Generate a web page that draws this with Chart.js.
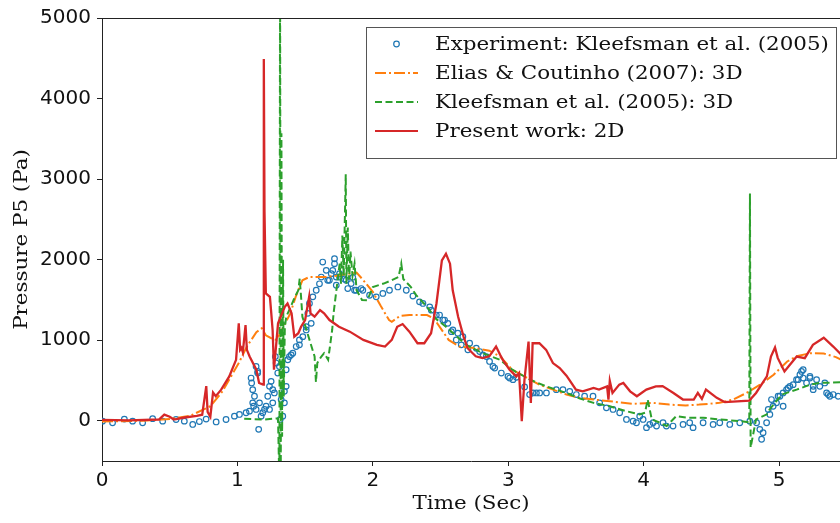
<!DOCTYPE html>
<html>
<head>
<meta charset="utf-8">
<script src="https://cdn.jsdelivr.net/npm/chart.js@4/dist/chart.umd.min.js"></script>
<style>
  html, body { margin: 0; padding: 0; background: #fff; overflow: hidden; }
  #wrap { width: 840px; height: 523px; }
  canvas { display: block; }
</style>
</head>
<body>
<div id="wrap"><canvas id="chart" width="840" height="523"></canvas></div>
<script>
// values: [time (s), pressure (Pa)]
const experiment = [
  [0.004,-5],[0.078,-25],[0.165,20],[0.226,-5],[0.30,-25],[0.374,25],[0.448,-5],[0.547,15],
  [0.608,-5],[0.67,-46],[0.719,-10],[0.769,20],[0.843,-15],[0.916,15],[0.978,57],[1.015,78],
  [1.064,99],[1.089,119],[1.101,530],[1.105,469],[1.113,386],[1.113,222],[1.12,180],[1.126,304],
  [1.138,673],[1.138,140],[1.15,612],[1.15,592],[1.157,-107],[1.163,222],[1.175,57],[1.187,99],
  [1.2,140],[1.212,180],[1.224,304],[1.237,427],[1.237,140],[1.249,489],[1.261,386],[1.261,222],
  [1.273,345],[1.28,797],[1.286,716],[1.298,592],[1.31,673],[1.316,16],[1.323,263],[1.335,57],
  [1.347,365],[1.347,222],[1.36,633],[1.36,427],[1.372,757],[1.384,797],[1.397,818],[1.409,839],
  [1.434,921],[1.458,942],[1.458,1003],[1.483,1044],[1.508,1127],[1.508,1167],[1.52,1333],[1.532,1456],
  [1.545,1209],[1.557,1538],[1.582,1620],[1.606,1700],[1.619,1784],[1.63,1970],[1.656,1867],[1.667,1744],
  [1.679,1744],[1.693,1826],[1.704,1867],[1.717,1950],[1.717,2011],[1.73,1784],[1.73,1682],[1.754,1826],
  [1.754,1784],[1.79,1760],[1.803,1744],[1.815,1641],[1.84,1703],[1.852,1780],[1.865,1620],[1.877,1620],
  [1.914,1641],[1.926,1620],[1.976,1558],[2.025,1538],[2.074,1580],[2.123,1620],[2.185,1661],[2.247,1620],
  [2.296,1548],[2.345,1476],[2.37,1456],[2.42,1414],[2.432,1373],[2.469,1312],[2.493,1312],[2.517,1250],
  [2.53,1250],[2.554,1209],[2.58,1106],[2.591,1127],[2.616,1003],[2.628,1086],[2.653,942],[2.665,1044],
  [2.702,880],[2.715,962],[2.764,900],[2.789,859],[2.813,818],[2.838,797],[2.862,736],[2.887,673],
  [2.9,654],[2.949,592],[2.998,550],[3.01,530],[3.035,510],[3.06,540],[3.121,420],[3.158,325],
  [3.183,345],[3.208,345],[3.232,345],[3.282,345],[3.355,386],[3.404,386],[3.454,365],[3.503,325],
  [3.564,304],[3.626,304],[3.675,222],[3.725,160],[3.774,140],[3.823,99],[3.873,16],[3.922,-5],
  [3.947,-25],[3.971,57],[3.996,16],[4.021,-86],[4.045,-46],[4.07,-25],[4.095,-66],[4.143,-25],
  [4.168,-66],[4.217,-66],[4.291,-46],[4.34,-25],[4.365,-86],[4.439,-25],[4.513,-46],[4.562,-25],
  [4.636,-46],[4.71,-25],[4.784,-5],[4.834,-25],[4.858,-107],[4.871,-230],[4.882,-148],[4.908,-25],
  [4.92,140],[4.932,78],[4.944,263],[4.956,180],[4.981,222],[4.993,304],[5.006,304],[5.03,345],
  [5.03,180],[5.055,386],[5.067,407],[5.08,427],[5.104,448],[5.129,510],[5.141,510],[5.154,571],
  [5.166,612],[5.178,633],[5.178,530],[5.203,469],[5.228,530],[5.228,550],[5.252,386],[5.252,427],
  [5.277,510],[5.301,427],[5.338,469],[5.351,345],[5.363,325],[5.375,304],[5.4,325],[5.437,304]
];

const elias3d = [
  [0,-10],[0.3,0],[0.5,20],[0.65,60],[0.8,180],[0.89,365],[0.96,571],[1.01,716],[1.07,921],
  [1.14,1100],[1.18,1148],[1.21,1060],[1.25,1024],[1.29,1003],[1.34,1167],[1.39,1330],[1.43,1538],
  [1.48,1744],[1.53,1784],[1.65,1784],[1.73,1800],[1.88,1840],[1.93,1744],[2.0,1600],[2.06,1420],
  [2.12,1250],[2.14,1229],[2.2,1300],[2.27,1312],[2.4,1312],[2.45,1270],[2.5,1150],[2.56,1003],
  [2.64,921],[2.76,901],[2.86,870],[2.94,797],[3.03,633],[3.13,540],[3.23,448],[3.33,386],
  [3.43,325],[3.53,284],[3.63,263],[3.75,242],[3.92,210],[4.07,222],[4.19,200],[4.31,190],
  [4.41,200],[4.56,222],[4.66,263],[4.76,345],[4.86,448],[4.96,571],[5.06,736],[5.13,800],
  [5.23,839],[5.33,835],[5.42,790],[5.46,756]
];

const kleefsman3d = [
  [1.05,25],[1.1,20],[1.2,15],[1.26,25],[1.3,30],[1.31,-800],[1.315,5600],[1.32,-800],[1.325,3570],
  [1.33,-200],[1.337,2000],[1.342,300],[1.35,1150],[1.36,1290],[1.39,1400],[1.42,1520],[1.45,1620],
  [1.46,1764],[1.47,1540],[1.48,1290],[1.51,1127],[1.54,962],[1.57,797],[1.58,480],[1.59,716],
  [1.62,797],[1.64,839],[1.67,756],[1.68,880],[1.7,1130],[1.71,1333],[1.74,1744],[1.755,1950],
  [1.765,1700],[1.775,2300],[1.785,1800],[1.8,3060],[1.805,1700],[1.815,2400],[1.825,1750],
  [1.835,2100],[1.85,1800],[1.865,1950],[1.88,1620],[1.92,1500],[1.96,1497],[2.0,1661],[2.08,1703],
  [2.14,1744],[2.19,1784],[2.21,1950],[2.225,1760],[2.28,1661],[2.32,1560],[2.4,1414],[2.47,1260],
  [2.54,1167],[2.69,942],[2.81,839],[2.94,756],[3.03,633],[3.16,510],[3.28,427],[3.43,345],
  [3.53,275],[3.63,222],[3.75,180],[3.87,119],[3.97,78],[4.01,100],[4.03,263],[4.06,16],
  [4.12,-25],[4.17,-66],[4.24,57],[4.32,37],[4.44,37],[4.56,16],[4.71,-5],[4.78,-20],[4.785,2820],
  [4.79,-333],[4.83,16],[4.91,80],[4.93,140],[5.02,325],[5.13,386],[5.23,448],[5.3,469],[5.46,477]
];

const present2d = [
  [0,10],[0.2,5],[0.42,15],[0.46,75],[0.5,50],[0.53,15],[0.61,40],[0.7,60],[0.74,75],[0.77,430],
  [0.78,110],[0.8,50],[0.82,350],[0.84,305],[0.88,386],[0.94,550],[0.96,633],[0.99,756],[1.01,1209],
  [1.02,880],[1.03,904],[1.04,850],[1.06,1188],[1.07,880],[1.09,797],[1.14,633],[1.16,469],
  [1.19,448],[1.195,4490],[1.2,2600],[1.21,1580],[1.24,1537],[1.25,1336],[1.26,1127],[1.27,633],
  [1.3,1209],[1.32,1291],[1.35,1414],[1.37,1456],[1.4,1333],[1.42,1044],[1.45,1086],[1.47,1167],
  [1.5,1250],[1.53,1540],[1.54,1333],[1.57,1291],[1.61,1373],[1.64,1333],[1.68,1250],[1.75,1167],
  [1.83,1106],[1.93,1003],[2.03,942],[2.09,921],[2.14,1003],[2.18,1167],[2.22,1200],[2.27,1106],
  [2.33,962],[2.38,962],[2.43,1086],[2.47,1456],[2.51,1990],[2.54,2073],[2.57,1950],[2.59,1620],
  [2.63,1291],[2.67,1044],[2.7,900],[2.76,800],[2.81,777],[2.86,800],[2.91,921],[2.94,818],
  [2.96,756],[3.01,633],[3.06,550],[3.08,592],[3.1,-5],[3.12,510],[3.15,982],[3.167,222],
  [3.18,962],[3.23,962],[3.28,880],[3.33,716],[3.38,654],[3.43,560],[3.45,510],[3.5,386],
  [3.55,365],[3.63,407],[3.67,386],[3.73,427],[3.74,263],[3.75,495],[3.77,345],[3.82,448],
  [3.85,469],[3.9,365],[3.95,304],[4.02,386],[4.09,427],[4.14,430],[4.22,345],[4.29,263],
  [4.37,263],[4.4,345],[4.43,270],[4.46,386],[4.54,284],[4.6,230],[4.78,250],[4.83,345],
  [4.91,550],[4.94,797],[4.97,910],[4.99,780],[5.04,612],[5.08,695],[5.13,797],[5.19,777],
  [5.25,942],[5.33,1030],[5.4,921],[5.46,818]
];

const xTicks = [0, 1, 2, 3, 4, 5];
const yTicks = [0, 1000, 2000, 3000, 4000, 5000];
const legendLabels = [
  'Experiment: Kleefsman et al. (2005)',
  'Elias & Coutinho (2007): 3D',
  'Kleefsman et al. (2005): 3D',
  'Present work: 2D'
];
const xTitle = 'Time (Sec)';
const yTitle = 'Pressure P5 (Pa)';

const toXY = arr => arr.map(p => ({ x: p[0], y: p[1] }));
const serif = "'DejaVu Serif', serif";
const sans = "'DejaVu Sans', sans-serif";
const ink = '#222';

const datasets = [
  { label: legendLabels[3], data: toXY(present2d), showLine: true, borderColor: '#d62728',
    borderWidth: 2.3, pointRadius: 0, order: 1 },
  { label: legendLabels[2], data: toXY(kleefsman3d), showLine: true, borderColor: '#2ca02c',
    borderWidth: 2, borderDash: [7, 3.5], pointRadius: 0, order: 2 },
  { label: legendLabels[1], data: toXY(elias3d), showLine: true, borderColor: '#ff7f0e',
    borderWidth: 2, borderDash: [11, 3, 2, 3], pointRadius: 0, order: 3 },
  { label: legendLabels[0], data: toXY(experiment), showLine: false, borderColor: '#1f77b4',
    backgroundColor: 'rgba(255,255,255,0)', pointRadius: 2.8, borderWidth: 1.2, order: 4 }
];

// the figure's serif text is wider than DejaVu Serif at the same height, so stretch it
const SERIF_SIZE = 18;
const STRETCH = 1.19;
function wideText(ctx, text, x, y, align, angle) {
  ctx.save();
  ctx.translate(x, y);
  if (angle) ctx.rotate(angle);
  ctx.scale(STRETCH, 1);
  ctx.textAlign = align;
  ctx.textBaseline = 'middle';
  ctx.fillText(text, 0, 0);
  ctx.restore();
}

// top spine, axis titles and boxed legend, matplotlib style
const frame = {
  id: 'frame',
  afterDraw(chart) {
    const { ctx, chartArea: a } = chart;
    ctx.save();
    ctx.strokeStyle = ink;
    ctx.lineWidth = 1;
    ctx.beginPath();
    ctx.moveTo(a.left, a.top + 0.5);
    ctx.lineTo(a.right, a.top + 0.5);
    ctx.stroke();

    ctx.font = SERIF_SIZE + 'px ' + serif;
    ctx.fillStyle = '#111';
    wideText(ctx, xTitle, (a.left + a.right) / 2, 504, 'center', 0);
    wideText(ctx, yTitle, 22, (a.top + a.bottom) / 2, 'center', -Math.PI / 2);

    const box = { x: 366.5, y: 27.5, w: 470, h: 131 };
    ctx.fillStyle = 'rgba(255,255,255,0.85)';
    ctx.fillRect(box.x, box.y, box.w, box.h);
    ctx.strokeStyle = '#555';
    ctx.strokeRect(box.x, box.y, box.w, box.h);

    const rows = [datasets[3], datasets[2], datasets[1], datasets[0]];
    rows.forEach((ds, i) => {
      const cy = 44 + i * 29;
      ctx.strokeStyle = ds.borderColor;
      if (ds.showLine) {
        ctx.lineWidth = 2;
        ctx.setLineDash(ds.borderDash || []);
        ctx.beginPath();
        ctx.moveTo(375, cy);
        ctx.lineTo(418, cy);
        ctx.stroke();
        ctx.setLineDash([]);
      } else {
        ctx.lineWidth = 1.2;
        ctx.beginPath();
        ctx.arc(396.5, cy, 2.8, 0, Math.PI * 2);
        ctx.stroke();
      }
      ctx.fillStyle = '#111';
      wideText(ctx, ds.label, 435, cy + 1, 'left', 0);
    });
    ctx.restore();
  }
};

new Chart(document.getElementById('chart'), {
  type: 'scatter',
  data: { datasets },
  options: {
    responsive: false,
    animation: false,
    layout: { autoPadding: false, padding: { top: 16, right: 0, left: 0, bottom: 0 } },
    elements: { line: { tension: 0 } },
    plugins: { legend: { display: false }, tooltip: { enabled: false } },
    scales: {
      x: {
        type: 'linear', min: 0, max: 5.45,
        afterBuildTicks: ax => { ax.ticks = xTicks.map(v => ({ value: v })); },
        afterFit: ax => { ax.height = 62; },
        border: { color: ink, width: 1 },
        grid: { drawOnChartArea: false, drawTicks: true, tickLength: 5, color: ink },
        ticks: { color: '#111', font: { family: sans, size: 20 }, padding: 3, maxRotation: 0,
                 callback: v => String(v) }
      },
      y: {
        type: 'linear', min: -500, max: 5000,
        afterBuildTicks: ax => { ax.ticks = yTicks.map(v => ({ value: v })); },
        afterFit: ax => { ax.width = 102; },
        border: { color: ink, width: 1 },
        grid: { drawOnChartArea: false, drawTicks: true, tickLength: 5, color: ink },
        ticks: { color: '#111', font: { family: sans, size: 20 }, padding: 6,
                 callback: v => String(v) }
      }
    }
  },
  plugins: [frame]
});
</script>
</body>
</html>
